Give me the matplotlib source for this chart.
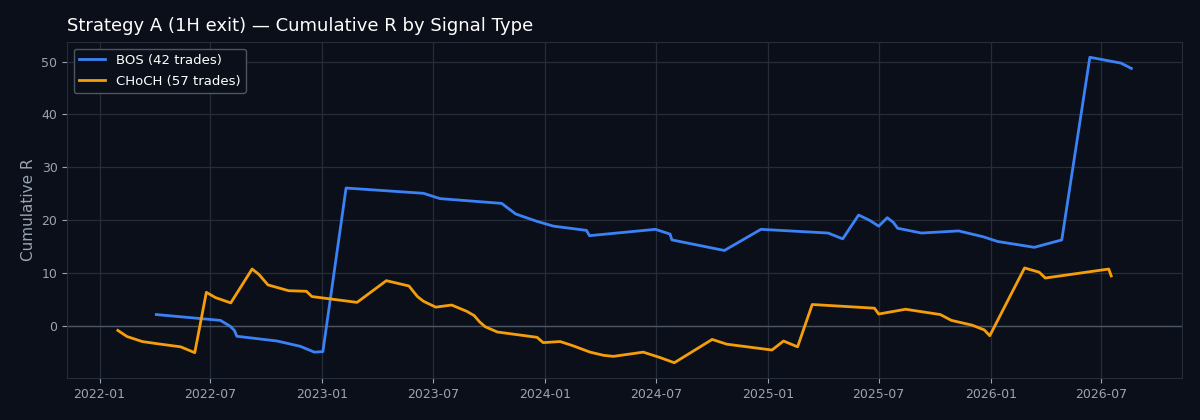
import pandas as pd
import matplotlib
matplotlib.use("Agg")
import matplotlib.pyplot as plt
import matplotlib.dates as mdates

# BOS signal cumulative R
bos_dates = ["2022-04-04", "2022-07-18", "2022-08-03", "2022-08-10", "2022-08-14",
             "2022-10-19", "2022-11-26", "2022-12-19", "2023-01-02", "2023-02-09",
             "2023-06-16", "2023-07-13", "2023-10-22", "2023-11-14", "2023-12-19",
             "2024-01-15", "2024-03-09", "2024-03-14", "2024-06-30", "2024-07-24",
             "2024-07-27", "2024-10-21", "2024-12-20", "2025-04-09", "2025-05-03",
             "2025-05-29", "2025-06-16", "2025-07-01", "2025-07-15", "2025-07-25",
             "2025-08-01", "2025-09-09", "2025-11-09", "2025-12-19", "2026-01-12",
             "2026-03-13", "2026-04-27", "2026-06-12", "2026-08-02", "2026-08-19"]
bos_r = [2.2, 1.1, 0.0, -0.8, -1.9, -2.8, -3.8, -4.9, -4.8, 26.1,
         25.1, 24.1, 23.2, 21.2, 19.8, 18.9, 18.1, 17.1, 18.3, 17.4,
         16.3, 14.3, 18.3, 17.6, 16.5, 21.0, 20.0, 18.9, 20.5, 19.6,
         18.5, 17.6, 18.0, 16.9, 16.0, 14.9, 16.3, 50.8, 49.7, 48.7]

# CHoCH signal cumulative R
choch_dates = ["2022-01-31", "2022-02-15", "2022-03-12", "2022-04-05", "2022-05-14",
               "2022-06-06", "2022-06-25", "2022-07-10", "2022-08-04", "2022-09-08",
               "2022-09-19", "2022-10-04", "2022-11-07", "2022-12-06", "2022-12-15",
               "2023-02-27", "2023-04-16", "2023-05-23", "2023-06-06", "2023-06-16",
               "2023-07-06", "2023-08-01", "2023-08-26", "2023-09-07", "2023-09-16",
               "2023-09-25", "2023-10-15", "2023-12-19", "2023-12-29", "2024-01-26",
               "2024-02-16", "2024-03-15", "2024-04-06", "2024-04-22", "2024-06-10",
               "2024-07-07", "2024-07-31", "2024-10-01", "2024-10-25", "2025-01-07",
               "2025-01-26", "2025-02-18", "2025-03-14", "2025-06-24", "2025-07-01",
               "2025-08-14", "2025-10-10", "2025-10-28", "2025-12-01", "2025-12-21",
               "2025-12-30", "2026-02-25", "2026-03-21", "2026-03-31", "2026-07-13",
               "2026-07-17"]
choch_r = [-0.8, -1.95, -2.9, -3.3, -3.9, -5.0, 6.4, 5.4, 4.4, 10.8,
           9.8, 7.8, 6.7, 6.6, 5.6, 4.5, 8.6, 7.6, 5.6, 4.7,
           3.6, 4.0, 2.8, 2.0, 0.8, -0.1, -1.1, -2.1, -3.1, -2.9,
           -3.7, -4.9, -5.5, -5.7, -4.9, -5.9, -6.9, -2.5, -3.4, -4.5,
           -2.8, -3.9, 4.1, 3.4, 2.3, 3.2, 2.2, 1.1, 0.2, -0.7,
           -1.8, 11.0, 10.2, 9.1, 10.8, 9.5]

bg = "#0b0f19"
grid_col = "#252c3a"
text_col = "#9aa4b2"

fig, ax = plt.subplots(figsize=(12, 4.2), dpi=100)
fig.patch.set_facecolor(bg)
ax.set_facecolor(bg)

ax.plot(pd.to_datetime(bos_dates), bos_r, color="#3b82f6", linewidth=2,
        label="BOS (42 trades)")
ax.plot(pd.to_datetime(choch_dates), choch_r, color="#f59e0b", linewidth=2,
        label="CHoCH (57 trades)")
ax.axhline(0, color="#4b5563", linewidth=1, zorder=1)

ax.set_title("Strategy A (1H exit) \u2014 Cumulative R by Signal Type",
             color="white", fontsize=13, loc="left", pad=8)
ax.set_ylabel("Cumulative R", color=text_col, fontsize=11)
ax.grid(True, color=grid_col, linewidth=0.9)
ax.set_axisbelow(True)
ax.tick_params(colors=text_col, labelsize=9)
for s in ax.spines.values():
    s.set_color(grid_col)

ax.xaxis.set_major_locator(mdates.MonthLocator(bymonth=[1, 7]))
ax.xaxis.set_major_formatter(mdates.DateFormatter("%Y-%m"))
ax.set_yticks([0, 10, 20, 30, 40, 50])

leg = ax.legend(loc="upper left", facecolor=bg, edgecolor="#4b5563",
                fontsize=9.5, framealpha=1, labelspacing=0.6)
for t in leg.get_texts():
    t.set_color("white")

fig.subplots_adjust(left=0.056, right=0.985, top=0.9, bottom=0.1)
fig.savefig("out.png", facecolor=bg)
